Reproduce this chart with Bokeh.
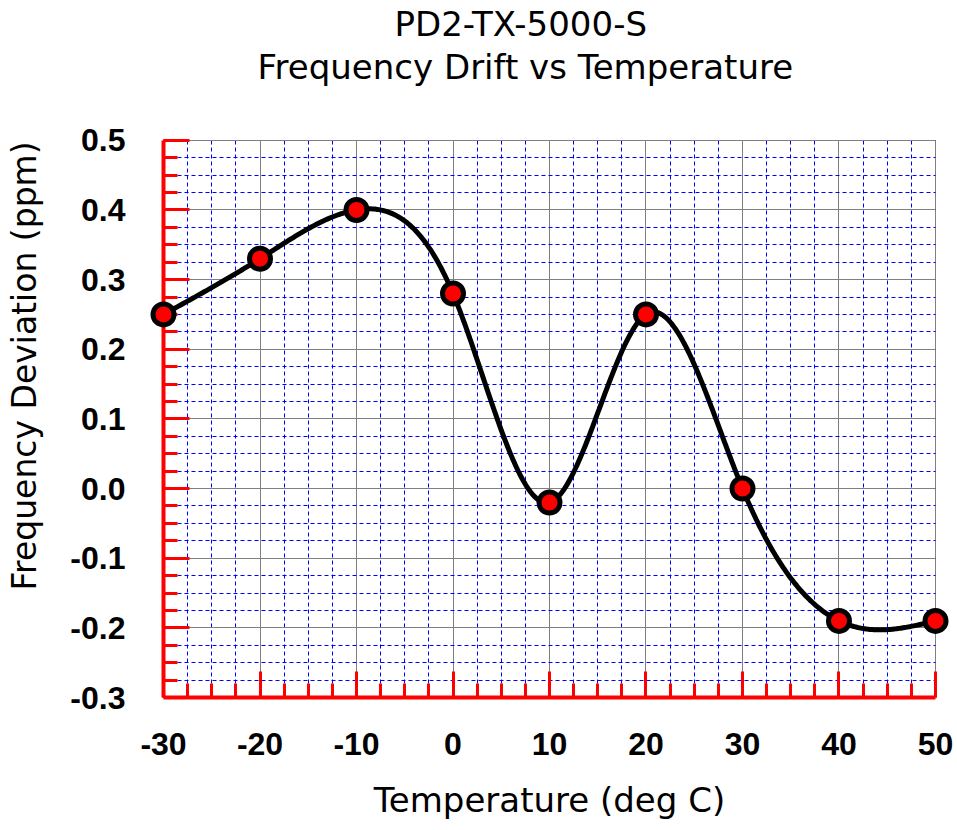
import numpy as np
from bokeh.plotting import figure
from bokeh.models import (Range1d, FixedTicker, PrintfTickFormatter, Title, LinearAxis,
                          ColumnDataSource)
from bokeh.embed import file_html
from bokeh.resources import INLINE

# ---- data ----
temperature = [-30, -20, -10, 0, 10, 20, 30, 40, 50]
deviation = [0.25, 0.33, 0.40, 0.28, -0.02, 0.25, 0.00, -0.19, -0.19]

x_ticks = [-30, -20, -10, 0, 10, 20, 30, 40, 50]
x_tick_labels = ["-30", "-20", "-10", "0", "10", "20", "30", "40", "50"]
y_ticks = [-0.3, -0.2, -0.1, 0.0, 0.1, 0.2, 0.3, 0.4, 0.5]
y_tick_labels = ["-0.3", "-0.2", "-0.1", "0.0", "0.1", "0.2", "0.3", "0.4", "0.5"]

title_lines = ["PD2-TX-5000-S", "Frequency Drift vs Temperature"]
x_label = "Temperature (deg C)"
y_label = "Frequency Deviation (ppm)"

TICK_FONT = "Liberation Sans"
TEXT_FONT = "DejaVu Sans"
TEXT_SIZE = "34px"


def natural_spline(xs, ys, n=600):
    xs = np.asarray(xs, float)
    ys = np.asarray(ys, float)
    m = len(xs)
    h = np.diff(xs)
    A = np.zeros((m, m))
    b = np.zeros(m)
    A[0, 0] = 1.0
    A[-1, -1] = 1.0
    for i in range(1, m - 1):
        A[i, i - 1] = h[i - 1]
        A[i, i] = 2 * (h[i - 1] + h[i])
        A[i, i + 1] = h[i]
        b[i] = 6 * ((ys[i + 1] - ys[i]) / h[i] - (ys[i] - ys[i - 1]) / h[i - 1])
    M = np.linalg.solve(A, b)
    t = np.linspace(xs[0], xs[-1], n)
    idx = np.clip(np.searchsorted(xs, t, side="right") - 1, 0, m - 2)
    x0, x1 = xs[idx], xs[idx + 1]
    hh = x1 - x0
    y0, y1 = ys[idx], ys[idx + 1]
    M0, M1 = M[idx], M[idx + 1]
    s = (M0 * (x1 - t) ** 3 / (6 * hh) + M1 * (t - x0) ** 3 / (6 * hh)
         + (y0 / hh - M0 * hh / 6) * (x1 - t) + (y1 / hh - M1 * hh / 6) * (t - x0))
    return t, s


curve_x, curve_y = natural_spline(temperature, deviation)

pts = ColumnDataSource(dict(x=temperature, y=deviation))
crv = ColumnDataSource(dict(x=curve_x, y=curve_y))

x_minor = list(np.arange(x_ticks[0], x_ticks[-1] + 0.001, 2.5))
y_minor = list(np.round(np.arange(y_ticks[0], y_ticks[-1] + 0.0001, 0.025), 4))

p = figure(width=957, height=830, output_backend="svg", toolbar_location=None,
           x_range=Range1d(-31.4508, 51.4508), y_range=Range1d(-0.3, 0.504),
           min_border_left=149, min_border_right=8, min_border_top=137, min_border_bottom=133,
           title=None)
p.outline_line_color = None
p.background_fill_color = "white"
p.border_fill_color = "white"

# axes
xa = p.xaxis[0]
ya = p.yaxis[0]
xa.ticker = FixedTicker(ticks=x_ticks, minor_ticks=x_minor)
ya.ticker = FixedTicker(ticks=y_ticks, minor_ticks=y_minor)
xa.major_label_overrides = {float(t): l for t, l in zip(x_ticks, x_tick_labels)}
xa.bounds = (x_ticks[0], x_ticks[-1])
ya.bounds = (y_ticks[0], y_ticks[-1])
ya.fixed_location = x_ticks[0]
ya.major_label_text_color = None

for ax in (xa, ya):
    ax.axis_line_color = "#ff0000"
    ax.axis_line_width = 4
    ax.major_tick_line_color = "#ff0000"
    ax.major_tick_line_width = 3
    ax.minor_tick_line_color = "#ff0000"
    ax.minor_tick_line_width = 3
    ax.major_tick_in = 26
    ax.major_tick_out = 0
    ax.minor_tick_in = 14
    ax.minor_tick_out = 0

xa.major_label_text_font = TICK_FONT
xa.major_label_text_font_size = "32px"
xa.major_label_text_font_style = "bold"
xa.major_label_text_color = "black"
xa.major_label_standoff = 35
xa.axis_label = x_label
xa.axis_label_text_font = TEXT_FONT
xa.axis_label_text_font_size = TEXT_SIZE
xa.axis_label_text_font_style = "normal"
xa.axis_label_text_color = "black"
xa.axis_label_standoff = 22

# y tick labels (label-only axis in the left panel)
ya2 = LinearAxis(ticker=FixedTicker(ticks=y_ticks),
                 formatter=PrintfTickFormatter(format="%.1f"),
                 major_label_overrides={float(t): l for t, l in zip(y_ticks, y_tick_labels)},
                 bounds=(y_ticks[0], y_ticks[-1]),
                 axis_line_color=None, major_tick_line_color=None, minor_tick_line_color=None,
                 major_tick_in=0, major_tick_out=0, minor_tick_in=0, minor_tick_out=0,
                 major_label_standoff=24,
                 major_label_text_font=TICK_FONT, major_label_text_font_size="32px",
                 major_label_text_font_style="bold", major_label_text_color="black")
p.add_layout(ya2, "left")

# grids
for g, b, cb in ((p.xgrid[0], (x_ticks[0], x_ticks[-1]), (y_ticks[0], y_ticks[-1])),
                 (p.ygrid[0], (y_ticks[0], y_ticks[-1]), (x_ticks[0], x_ticks[-1]))):
    g.bounds = b
    g.cross_bounds = cb
    g.grid_line_color = "#808080"
    g.grid_line_width = 1
    g.minor_grid_line_color = "#0000ff"
    g.minor_grid_line_width = 1
    g.minor_grid_line_dash = "4 3"

# titles (stacked outward from the frame: spacer, line 2, line 1)
tkw = dict(text_font=TEXT_FONT, text_font_style="normal", text_color="black", align="left")
p.add_layout(Title(text=" ", text_font_size="1px", standoff=47), "above")
p.add_layout(Title(text=title_lines[1], offset=108, standoff=2, text_font_size=TEXT_SIZE, **tkw), "above")
p.add_layout(Title(text=title_lines[0], offset=245, standoff=0, text_font_size=TEXT_SIZE, **tkw), "above")

# y axis label (spacer then label, outward from the tick labels)
p.add_layout(Title(text=" ", text_font_size="1px", standoff=21), "left")
p.add_layout(Title(text=y_label, offset=107, standoff=0, text_font_size="33px", **tkw), "left")

p.line("x", "y", source=crv, line_color="black", line_width=5, line_join="round", level="overlay")
p.scatter("x", "y", source=pts, size=21, fill_color="#ff0000", line_color="black",
          line_width=5, level="overlay")

open("out.html", "w").write(file_html(p, INLINE))
